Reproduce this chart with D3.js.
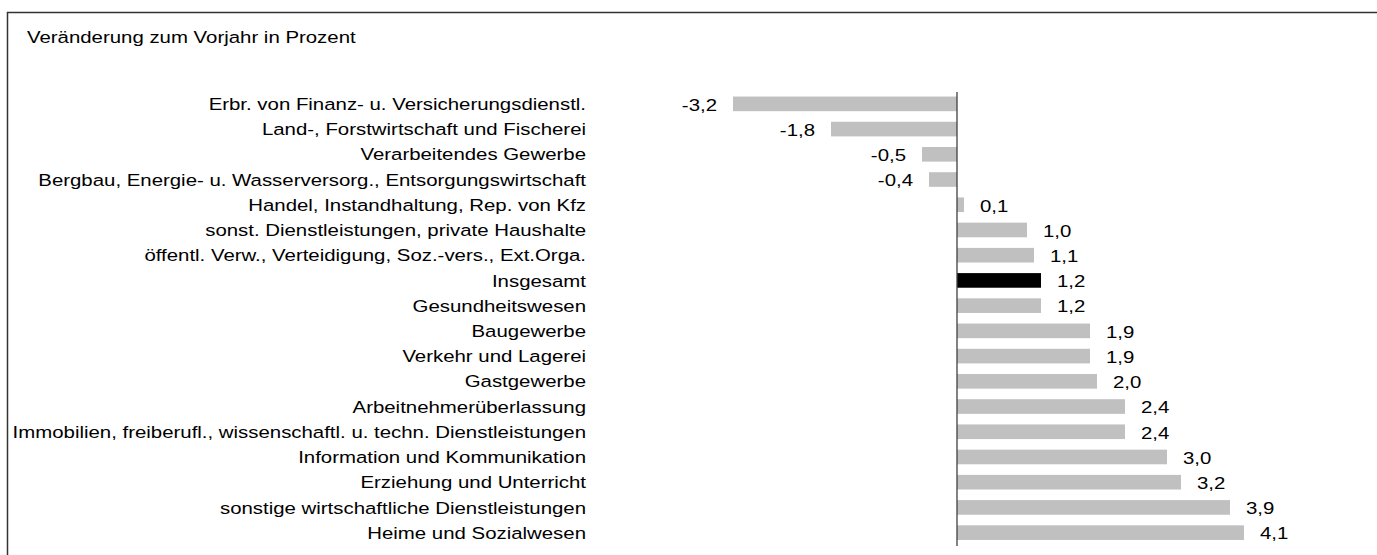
<!DOCTYPE html>
<html>
<head>
<meta charset="utf-8">
<script src="https://cdn.jsdelivr.net/npm/d3@7"></script>
<style>
  html, body { margin: 0; background: #fff; overflow: hidden; }
  svg { display: block; }
  text { font-family: "Liberation Sans", Arial, sans-serif; fill: #000; }
</style>
</head>
<body>
<svg id="chart" width="1377" height="555"></svg>
<script>
'use strict';

var categories = [
    'Erbr. von Finanz- u. Versicherungsdienstl.',
    'Land-, Forstwirtschaft und Fischerei',
    'Verarbeitendes Gewerbe',
    'Bergbau, Energie- u. Wasserversorg., Entsorgungswirtschaft',
    'Handel, Instandhaltung, Rep. von Kfz',
    'sonst. Dienstleistungen, private Haushalte',
    'öffentl. Verw., Verteidigung, Soz.-vers., Ext.Orga.',
    'Insgesamt',
    'Gesundheitswesen',
    'Baugewerbe',
    'Verkehr und Lagerei',
    'Gastgewerbe',
    'Arbeitnehmerüberlassung',
    'Immobilien, freiberufl., wissenschaftl. u. techn. Dienstleistungen',
    'Information und Kommunikation',
    'Erziehung und Unterricht',
    'sonstige wirtschaftliche Dienstleistungen',
    'Heime und Sozialwesen'
];

var values = [-3.2, -1.8, -0.5, -0.4, 0.1, 1.0, 1.1, 1.2, 1.2, 1.9, 1.9, 2.0, 2.4, 2.4, 3.0, 3.2, 3.9, 4.1];

var highlight = 'Insgesamt';

var title = 'Veränderung zum Vorjahr in Prozent';

var data = categories.map(function(c, i) {
    return {name: c, value: values[i]};
});

// the source text is a bit wider than plain Arial, so stretch it horizontally
var fontSize = '17px',
    stretch = 'scale(1.2,1)';

var svg = d3.select('#chart');

// frame: only left and top edges are visible in the picture
svg.append('path')
    .attr('d', 'M7.5,555V12.5H1377')
    .style('fill', 'none')
    .style('stroke', '#333')
    .style('stroke-width', 1.5);

svg.append('text')
    .attr('transform', 'translate(27,43) ' + stretch)
    .style('font-size', fontSize)
    .text(title);

var x = d3.scaleLinear()
    .domain([0, 1])
    .range([957, 1027]);

var y = d3.scaleBand()
    .domain(categories)
    .range([91.5, 545])
    .paddingInner(0.42)
    .paddingOuter(0.2);

var bars = svg.append('g').attr('class', 'bars');

bars.selectAll('rect')
    .data(data)
    .enter().append('rect')
    .attr('x', function(d) { return x(Math.min(0, d.value)); })
    .attr('y', function(d) { return y(d.name); })
    .attr('width', function(d) { return Math.abs(x(d.value) - x(0)); })
    .attr('height', y.bandwidth())
    .style('fill', function(d) { return d.name === highlight ? '#000' : '#c0c0c0'; });

// category axis at zero
var axis = d3.axisLeft(y).tickSize(0).tickPadding(0);
var axisG = svg.append('g')
    .attr('transform', 'translate(' + x(0) + ',0)')
    .call(axis);

axisG.select('.domain')
    .attr('d', 'M0,92V546')
    .style('stroke', '#404040')
    .style('stroke-width', 1.3);

// labels sit far left of the axis, right-aligned
axisG.selectAll('.tick text')
    .attr('x', 0)
    .attr('transform', 'translate(' + (586 - x(0)) + ',0) ' + stretch)
    .attr('dy', '0.36em')
    .style('font-size', fontSize)
    .style('font-family', '"Liberation Sans", Arial, sans-serif')
    .style('fill', '#000');

var fmt = function(v) {
    return d3.format('.1f')(v).replace('\u2212', '-').replace('.', ',');
};

svg.append('g').attr('class', 'values')
    .selectAll('text')
    .data(data)
    .enter().append('text')
    .attr('transform', function(d) {
        var tx = d.value < 0 ? x(d.value) - 16 : x(d.value) + 16,
            ty = y(d.name) + y.bandwidth() / 2;
        return 'translate(' + tx + ',' + ty + ') ' + stretch;
    })
    .attr('dy', '0.4em')
    .attr('text-anchor', function(d) { return d.value < 0 ? 'end' : 'start'; })
    .style('font-size', fontSize)
    .text(function(d) { return fmt(d.value); });
</script>
</body>
</html>
